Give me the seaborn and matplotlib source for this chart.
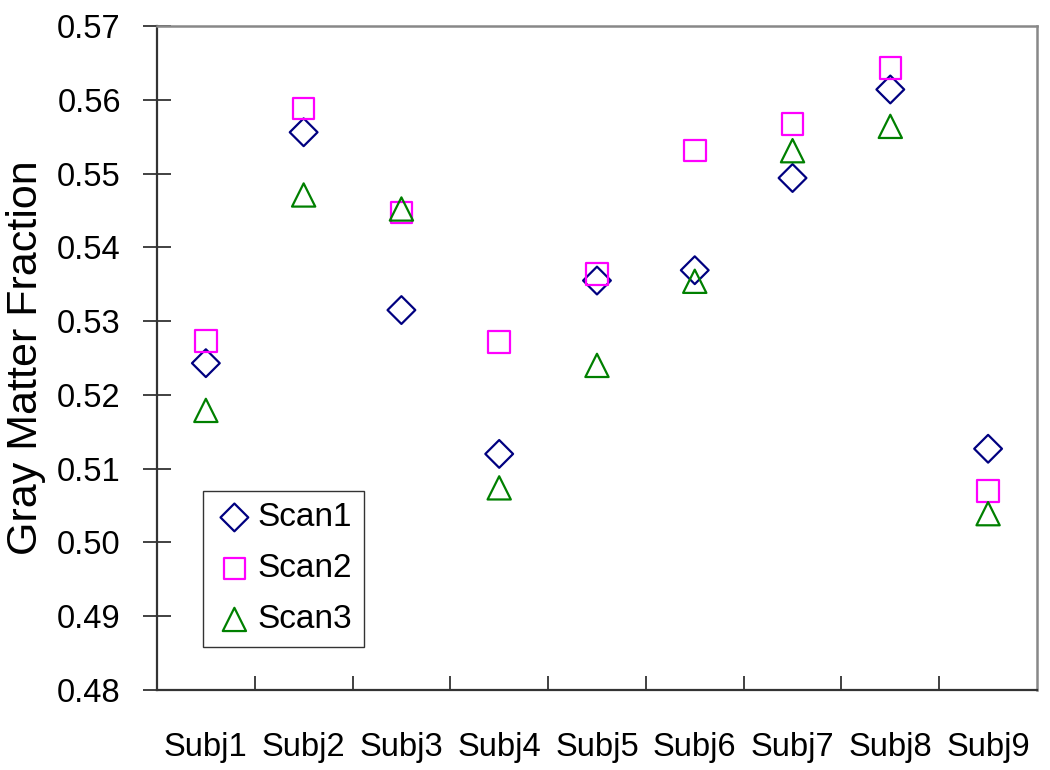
import pandas as pd
import matplotlib
matplotlib.use('Agg')
import matplotlib.pyplot as plt
import seaborn as sns

subjects = ['Subj1', 'Subj2', 'Subj3', 'Subj4', 'Subj5', 'Subj6', 'Subj7', 'Subj8', 'Subj9']
scan1 = [0.5243, 0.5556, 0.5315, 0.5120, 0.5355, 0.5369, 0.5494, 0.5614, 0.5127]
scan2 = [0.5273, 0.5588, 0.5447, 0.5272, 0.5364, 0.5531, 0.5567, 0.5643, 0.5070]
scan3 = [0.5179, 0.5471, 0.5452, 0.5074, 0.5240, 0.5354, 0.5531, 0.5564, 0.5039]

series_names = ['Scan1', 'Scan2', 'Scan3']
series_colors = ['#000080', '#FF00FF', '#008000']
series_markers = ['D', 's', '^']
series_sizes = [200, 240, 280]

sns.set_style('white')
plt.rcParams['font.family'] = ['Liberation Sans', 'DejaVu Sans']
plt.rcParams['text.color'] = 'black'
plt.rcParams['axes.labelcolor'] = 'black'
plt.rcParams['xtick.color'] = 'black'
plt.rcParams['ytick.color'] = 'black'

fig = plt.figure(figsize=(10.5, 7.7), dpi=100)
ax = fig.add_axes([0.1495, 0.1039, 0.8381, 0.8623])

for name, vals, col, mk, sz in zip(series_names, [scan1, scan2, scan3],
                                   series_colors, series_markers, series_sizes):
    df = pd.DataFrame({'subject': subjects, 'gmf': vals})
    sns.scatterplot(data=df, x='subject', y='gmf', marker=mk, s=sz,
                    facecolors='none', edgecolor=col, linewidth=1.6,
                    label=name, ax=ax, zorder=3)

ax.set_xlim(-0.5, len(subjects) - 0.5)
ax.set_ylim(0.48, 0.57)
ax.set_yticks([0.48 + 0.01 * i for i in range(10)])
ax.set_yticklabels([f'{0.48 + 0.01 * i:.2f}' for i in range(10)])
ax.set_xticks(range(len(subjects)))
ax.set_xticklabels(subjects)
ax.set_xticks([i + 0.5 for i in range(len(subjects) - 1)], minor=True)

ax.tick_params(axis='y', left=True, direction='inout', length=20, width=1.3,
               color='#333333', labelsize=23.5, pad=16, labelcolor='black')
ax.tick_params(axis='x', which='major', bottom=True, length=0, labelsize=23.5,
               pad=30, labelcolor='black')
ax.tick_params(axis='x', which='minor', bottom=True, direction='in', length=10,
               width=1.3, color='#333333')

for s in ['left', 'bottom']:
    ax.spines[s].set_color('#333333')
    ax.spines[s].set_linewidth(1.6)
for s in ['top', 'right']:
    ax.spines[s].set_color('#888888')
    ax.spines[s].set_linewidth(1.8)

ax.set_xlabel('')
ax.set_ylabel('Gray Matter Fraction', fontsize=31, labelpad=8, color='black')

leg = ax.legend(loc='lower left', bbox_to_anchor=(0.052, 0.065), borderaxespad=0,
                fontsize=24, frameon=True, fancybox=False, handletextpad=0.1,
                handlelength=1.2, borderpad=0.35, labelspacing=0.6)
leg.get_frame().set_edgecolor('black')
leg.get_frame().set_linewidth(1.0)

fig.savefig('out.png', dpi=100)
